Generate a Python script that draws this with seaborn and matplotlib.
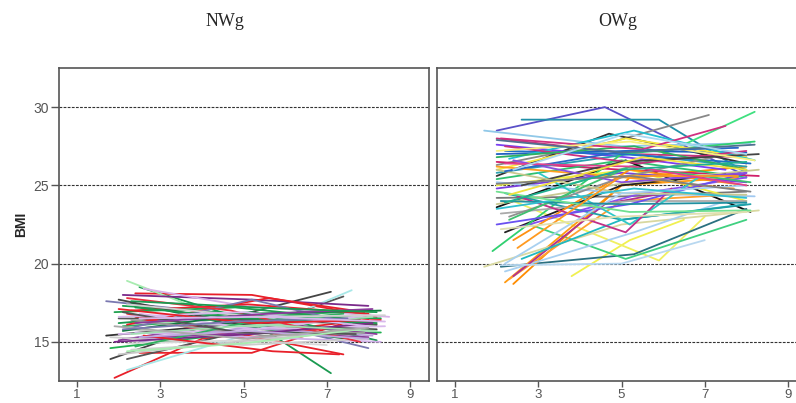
import pandas as pd
import seaborn as sns
import matplotlib.pyplot as plt

# ---------------------------------------------------------
# DATA: one trajectory per child, three visits (age, BMI)
# ---------------------------------------------------------
nw_age1 = [1.9, 2.5, 2.5, 1.8, 2.2, 2.4, 2.2, 1.7, 2.2, 2.2, 2.1, 2.6, 1.7, 2.0,
           1.8, 2.0, 2.2, 2.3, 2.1, 2.4, 2.0, 2.3, 2.1, 2.5, 2.0, 2.2, 2.3, 1.9,
           2.4, 2.0, 2.6, 2.1, 2.2, 2.3, 1.8, 2.4, 2.0, 2.5, 2.2, 2.1, 2.3, 1.9,
           2.4, 2.2, 2.6, 2.0, 2.3, 2.1, 2.5, 2.0, 2.2, 2.4, 1.9, 2.3, 2.1, 2.5]
nw_bmi1 = [12.7, 14.3, 18.5, 13.9, 13.9, 18.1, 18.9, 17.6, 13.2, 16.8, 18.0, 18.4,
           15.4, 16.2, 14.6, 15.1, 15.8, 14.5, 17.3, 16.6, 15.5, 17.5, 16.0, 15.0,
           16.5, 14.9, 17.0, 16.9, 15.6, 17.7, 16.3, 15.2, 16.1, 15.9, 15.3, 17.2,
           14.2, 16.8, 17.8, 15.7, 16.4, 15.0, 14.7, 17.4, 15.4, 16.6, 15.5, 16.9,
           15.3, 17.1, 14.4, 16.2, 16.0, 17.6, 15.8, 16.5]
nw_age2 = [4.0, 5.2, 5.2, 4.6, 5.0, 5.2, 5.0, 4.6, 5.0, 5.3, 5.2, 5.0, 5.0, 5.2,
           5.0, 5.1, 4.8, 5.4, 5.5, 5.1, 5.2, 4.9, 5.3, 5.0, 5.5, 5.0, 5.1, 4.8,
           5.3, 5.0, 5.2, 5.4, 5.6, 5.2, 5.0, 5.0, 4.8, 5.3, 4.7, 5.1, 5.5, 5.2,
           5.0, 5.3, 5.7, 5.0, 5.4, 4.9, 5.1, 5.2, 5.0, 5.6, 5.0, 5.3, 4.8, 5.4]
nw_bmi2 = [15.2, 14.3, 16.3, 16.5, 15.7, 18.0, 16.0, 16.8, 15.4, 15.3, 17.7, 17.3,
           16.2, 16.9, 15.6, 16.4, 15.4, 15.0, 16.7, 15.2, 15.8, 16.0, 16.6, 15.9,
           16.4, 15.1, 17.4, 17.2, 15.3, 16.1, 16.0, 15.6, 17.8, 17.7, 14.8, 16.5,
           15.0, 15.8, 17.0, 16.8, 15.4, 15.5, 16.2, 16.6, 14.4, 16.9, 16.1, 15.6,
           15.7, 16.2, 14.9, 16.8, 15.2, 17.2, 16.3, 16.6]
nw_age3 = [8.0, 8.0, 7.1, 7.1, 7.4, 8.2, 8.0, 8.0, 7.6, 7.4, 8.0, 8.5, 8.2, 8.2,
           8.3, 8.2, 8.1, 8.0, 8.3, 7.9, 8.4, 7.5, 8.0, 8.1, 8.2, 7.0, 8.0, 7.8,
           8.3, 8.2, 8.1, 8.0, 7.9, 7.6, 8.0, 8.2, 7.2, 8.0, 7.8, 8.3, 7.9, 8.1,
           7.4, 8.4, 7.3, 8.0, 8.2, 7.7, 8.0, 8.3, 7.8, 8.1, 8.0, 8.2, 7.5, 8.4]
nw_bmi3 = [16.4, 16.7, 13.0, 18.2, 17.9, 16.6, 15.8, 14.6, 18.3, 14.2, 17.3, 16.6,
           16.3, 15.1, 15.6, 15.5, 16.9, 15.9, 16.5, 16.2, 16.0, 15.2, 17.0, 15.4,
           16.1, 14.8, 16.8, 16.4, 15.0, 15.8, 16.6, 15.3, 16.9, 16.2, 15.2, 16.2,
           15.6, 16.7, 15.0, 17.0, 15.6, 16.2, 16.8, 16.7, 14.2, 16.0, 15.7, 15.5,
           15.2, 16.4, 15.8, 17.1, 15.9, 16.9, 16.5, 16.3]

ow_age1 = [2.0, 2.6, 2.0, 3.4, 2.0, 2.0, 3.8, 2.4, 2.1, 2.8, 2.2, 2.4, 2.3, 1.7,
           2.0, 1.7, 2.0, 2.0, 2.0, 2.0, 2.0, 2.0, 2.0, 2.2, 2.5, 1.9, 2.2, 2.4,
           2.1, 2.6, 2.2, 2.0, 2.0, 2.2, 2.3, 2.0, 2.1, 2.4, 2.0, 2.2, 2.0, 3.0,
           2.5, 2.0, 2.3, 2.0, 2.6, 2.1, 2.0, 2.3, 2.2, 2.1, 2.0, 2.4, 2.0, 2.2,
           2.0, 2.5, 2.2, 2.1, 2.0, 2.3, 2.0, 2.2, 2.4]
ow_bmi1 = [28.5, 29.2, 26.3, 24.8, 23.6, 25.6, 19.2, 24.0, 19.8, 22.5, 18.8, 18.7,
           19.0, 19.8, 28.0, 28.5, 27.6, 27.0, 26.5, 25.8, 25.4, 24.2, 23.8, 22.0,
           22.3, 20.8, 19.5, 19.2, 19.9, 20.3, 24.5, 25.0, 26.0, 27.2, 26.7, 24.8,
           23.2, 21.5, 26.2, 27.5, 25.2, 25.8, 24.3, 22.5, 23.0, 26.8, 25.0, 28.0,
           26.0, 22.8, 20.0, 24.0, 27.2, 26.6, 23.5, 25.9, 24.6, 21.0, 26.4, 22.2,
           27.9, 24.4, 25.1, 23.9, 26.0]
ow_age2 = [4.6, 5.9, 4.8, 5.6, 5.1, 4.7, 5.2, 5.9, 5.3, 5.1, 5.0, 5.2, 5.0, 5.0,
           5.3, 5.0, 5.1, 5.2, 5.0, 5.2, 5.0, 5.1, 5.2, 5.0, 5.5, 5.0, 5.3, 4.6,
           5.0, 5.0, 5.0, 5.2, 5.1, 5.0, 5.3, 5.0, 5.2, 5.2, 5.1, 5.4, 5.0, 5.2,
           5.1, 5.2, 5.0, 5.3, 5.0, 5.5, 5.0, 5.2, 5.0, 5.0, 5.2, 5.0, 5.3, 5.1,
           5.2, 5.0, 5.3, 4.9, 5.0, 5.5, 5.2, 5.0, 5.1]
ow_bmi2 = [30.0, 29.2, 27.8, 26.5, 26.6, 28.3, 21.5, 20.2, 20.6, 20.3, 25.0, 25.5,
           24.0, 22.5, 27.0, 27.5, 26.8, 27.2, 26.0, 27.0, 26.6, 24.3, 25.2, 25.0,
           24.5, 27.0, 22.0, 23.8, 20.0, 22.8, 22.8, 26.0, 28.0, 27.0, 28.5, 25.8,
           24.0, 26.0, 25.5, 26.4, 24.5, 22.5, 22.0, 23.8, 25.5, 27.5, 26.5, 27.3,
           24.5, 26.2, 24.5, 23.8, 27.8, 25.2, 24.8, 27.2, 23.3, 25.6, 26.2, 23.0,
           27.1, 26.8, 25.6, 26.0, 28.3]
ow_age3 = [8.0, 8.0, 7.1, 8.2, 8.1, 8.0, 6.5, 7.0, 8.0, 8.0, 7.8, 8.0, 7.6, 8.3,
           8.0, 8.1, 7.5, 8.0, 8.3, 8.0, 8.0, 8.0, 8.3, 7.5, 8.0, 8.2, 7.5, 7.0,
           7.0, 8.0, 8.1, 8.0, 8.0, 8.1, 8.2, 8.0, 8.0, 8.0, 7.7, 8.0, 8.2, 6.9,
           6.2, 8.0, 7.2, 8.0, 8.3, 7.5, 8.0, 8.1, 8.0, 8.0, 8.2, 8.0, 8.0, 7.8,
           8.1, 7.8, 8.0, 8.0, 8.2, 8.0, 8.1, 8.0, 8.0]
ow_bmi3 = [25.6, 25.8, 29.5, 29.7, 23.3, 26.4, 22.8, 23.0, 23.5, 22.8, 25.5, 26.2,
           24.4, 23.4, 26.8, 27.7, 26.0, 27.1, 25.6, 26.2, 25.5, 24.6, 26.0, 25.7,
           25.5, 27.8, 24.0, 25.0, 21.5, 23.8, 23.8, 24.0, 26.8, 26.4, 26.6, 25.2,
           24.0, 25.0, 24.8, 27.2, 24.3, 25.6, 24.8, 25.8, 26.8, 26.0, 27.0, 28.8,
           24.4, 25.2, 25.0, 23.9, 26.6, 25.8, 24.2, 27.4, 23.4, 25.6, 25.0, 23.3,
           27.6, 26.0, 24.6, 26.5, 27.0]

nw_colors = ["#e8202a", "#e8202a", "#1a9a50", "#444444", "#555555", "#e8202a",
             "#a8ecb0", "#7a78b0", "#a8e8e8", "#e8202a", "#7a2a8a", "#d8b0e8",
             "#333333", "#1a9a50", "#20b050", "#8a3a9a", "#c8c8c8", "#d0d0d0",
             "#1aa050", "#e83040", "#d8b8ec", "#107a40", "#30b060", "#b8a0d8",
             "#555555", "#d8d8d8", "#e8202a", "#20a050", "#d0b0e8", "#444444",
             "#a0e0b0", "#8a3a9a", "#e8202a", "#7a78b0", "#cccccc", "#1a9a50",
             "#c8c8c8", "#d8b8ec", "#e83040", "#107a40", "#999999", "#7a2a8a",
             "#30b060", "#d0d0d0", "#e8202a", "#d8b8ec", "#a0e0b0", "#555555",
             "#c0a8e0", "#e8202a", "#a8ecb0", "#8a3a9a", "#aaaaaa", "#1a9a50",
             "#7a78b0", "#d8b8ec"]
ow_colors = ["#5a50c8", "#1f8fa8", "#888888", "#40e080", "#111111", "#333333",
             "#f0f050", "#f0f060", "#2a7080", "#40d080", "#ff9a10", "#ff8c00",
             "#ffa030", "#d8d8a0", "#c2357a", "#90c8e8", "#7b3ff2", "#2060c0",
             "#d0206a", "#2aa0b0", "#30c070", "#777777", "#c8c890", "#222222",
             "#8a50f0", "#30d070", "#a8d0f0", "#b03090", "#b8d8f0", "#20b8c0",
             "#20a0a8", "#f0f040", "#f8e840", "#2070c8", "#20c0d0", "#7a40e0",
             "#aaaaaa", "#ff9010", "#ffa020", "#c83080", "#a0c8f0", "#30c8c8",
             "#c03088", "#6a50f0", "#909090", "#30b060", "#444444", "#d03080",
             "#c8c890", "#40c070", "#a8d0f0", "#2090a0", "#f8f080", "#8a50e0",
             "#30c0d0", "#2868c8", "#70e090", "#ff9a20", "#e04090", "#e0e0b0",
             "#507090", "#f0e040", "#808080", "#20b090", "#a8d8f0"]

# ---------------------------------------------------------
# LONG FORMAT TABLE
# ---------------------------------------------------------
rows = []
for grp, ages, bmis in [("NWg", (nw_age1, nw_age2, nw_age3), (nw_bmi1, nw_bmi2, nw_bmi3)),
                        ("OWg", (ow_age1, ow_age2, ow_age3), (ow_bmi1, ow_bmi2, ow_bmi3))]:
    for visit in range(3):
        for i, (a, b) in enumerate(zip(ages[visit], bmis[visit])):
            rows.append({"group": grp, "subject": f"{grp}{i:02d}", "visit": visit,
                         "age": a, "bmi": b})
df = pd.DataFrame(rows).sort_values(["group", "subject", "visit"])

# ---------------------------------------------------------
# PLOT
# ---------------------------------------------------------
sns.set_style("white")
plt.rcParams["font.family"] = ["Liberation Sans", "DejaVu Sans"]
fig = plt.figure(figsize=(7.96, 4.03), dpi=100)
ax1 = fig.add_axes([59 / 796, 22 / 403, 370 / 796, 313 / 403])
ax2 = fig.add_axes([437 / 796, 22 / 403, 370 / 796, 313 / 403])

for ax, grp, cols in [(ax1, "NWg", nw_colors), (ax2, "OWg", ow_colors)]:
    sub = df[df["group"] == grp]
    sns.lineplot(data=sub, x="age", y="bmi", hue="subject", units="subject",
                 estimator=None, sort=False, palette=cols, legend=False,
                 linewidth=1.3, ax=ax)
    ax.set_xlim(0.567, 9.457)
    ax.set_ylim(12.5, 32.5)
    ax.set_xticks([1, 3, 5, 7, 9])
    ax.set_yticks([15, 20, 25, 30])
    for yv in [15, 20, 25, 30]:
        ax.axhline(yv, color="#333333", linestyle=(0, (2.5, 1.2)), linewidth=0.8, zorder=0)
    for s in ax.spines.values():
        s.set_color("#555555")
        s.set_linewidth(1.2)
    ax.tick_params(axis="x", direction="out", length=4, width=1, color="#555555",
                   labelsize=9.5, labelcolor="#555555", pad=1.5, bottom=True)
    ax.set_xlabel("")
    ax.set_ylabel("")

ax1.tick_params(axis="y", direction="out", length=6, width=1, color="#555555",
                labelsize=10, labelcolor="#555555", pad=1, left=True)
ax2.tick_params(axis="y", left=False, labelleft=False)
ax1.set_ylabel("BMI", fontsize=10, fontweight="bold", labelpad=4)

fig.text(225 / 796, 1 - 22 / 403, "NWg", ha="center", va="center",
         family="Liberation Serif", fontsize=13)
fig.text(618 / 796, 1 - 22 / 403, "OWg", ha="center", va="center",
         family="Liberation Serif", fontsize=13)

fig.savefig("out.png", dpi=100)
